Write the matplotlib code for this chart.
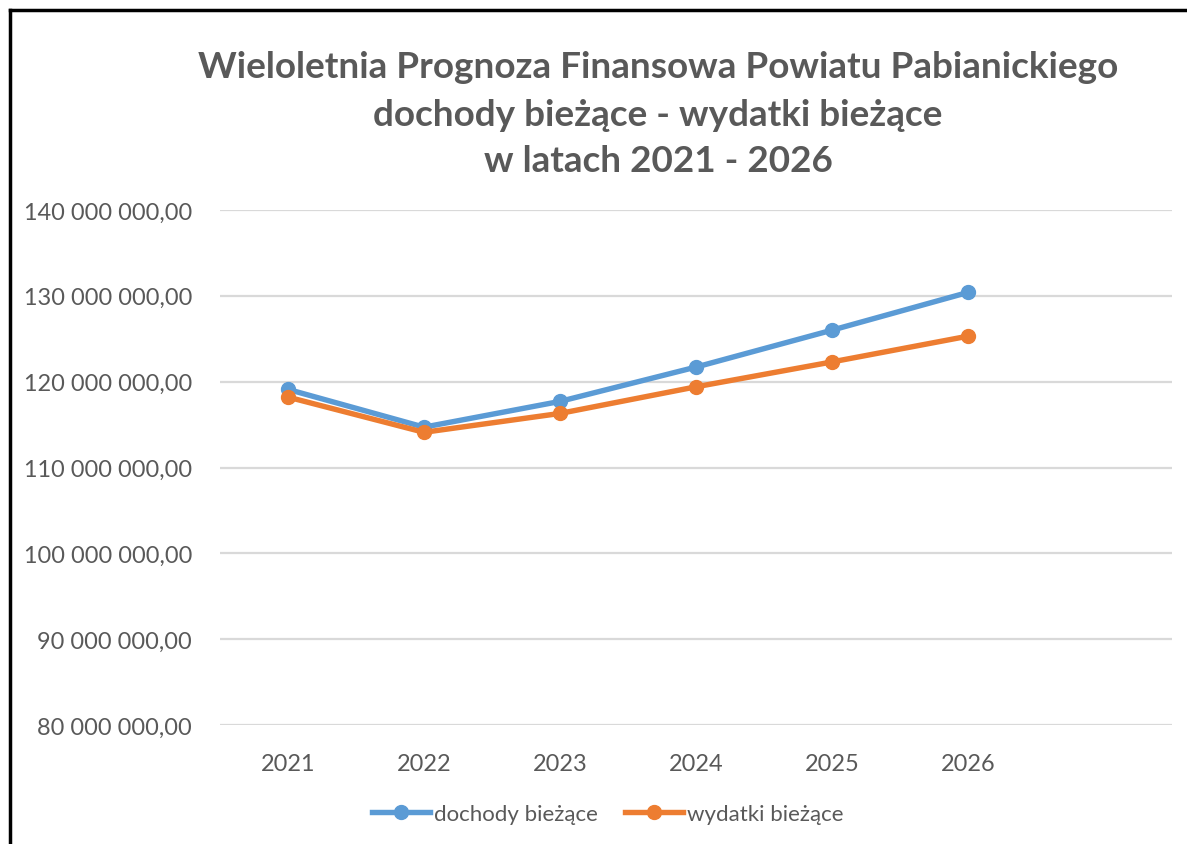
import matplotlib.pyplot as plt
from matplotlib.lines import Line2D
from matplotlib.ticker import FuncFormatter

lata = ["2021", "2022", "2023", "2024", "2025", "2026"]
dochody = [119.1e6, 114.7e6, 117.7e6, 121.7e6, 126.0e6, 130.4e6]
wydatki = [118.2e6, 114.1e6, 116.3e6, 119.4e6, 122.3e6, 125.3e6]

plt.rcParams['font.family'] = ['Lato', 'DejaVu Sans']
szary = "#595959"

fig = plt.figure(figsize=(11.87, 8.45), dpi=100)
ax = fig.add_axes([220/1187, 1-726/845, 952/1187, 515/845])

x = list(range(len(lata)))
ax.plot(x, dochody, color="#5B9BD5", lw=3.9, marker="o", ms=10, label="dochody bieżące", zorder=3)
ax.plot(x, wydatki, color="#ED7D31", lw=3.9, marker="o", ms=10, label="wydatki bieżące", zorder=4)

# siedem kategorii jak w Excelu, ostatnia pusta
ax.set_xlim(-0.5, 6.5)
ax.set_ylim(80e6, 140e6)
ax.set_yticks([80e6 + i*10e6 for i in range(7)])
ax.set_xticks(x)
ax.set_xticklabels(lata)

def fmt(v, pos):
    return "{:,.2f}".format(v).replace(",", " ").replace(".", ",")
ax.yaxis.set_major_formatter(FuncFormatter(fmt))

ax.grid(axis="y", color="#D9D9D9", lw=1.6)
ax.set_axisbelow(True)
for s in ax.spines.values():
    s.set_visible(False)
ax.tick_params(length=0, colors=szary, labelsize=16.9)
ax.tick_params(axis="y", pad=20)
ax.tick_params(axis="x", pad=20)

tytul = ["Wieloletnia Prognoza Finansowa Powiatu Pabianickiego",
         "dochody bieżące - wydatki bieżące",
         "w latach 2021 - 2026"]
for t, yy in zip(tytul, [67, 115, 161]):
    fig.text(658/1187, 1-yy/845, t, ha="center", va="center",
             fontsize=26.6, fontweight="bold", color=szary)

leg = fig.legend(loc="center", bbox_to_anchor=(608/1187, 1-815/845), ncol=2, frameon=False,
                 fontsize=16, handlelength=2.6, handletextpad=0.2, columnspacing=1.2)
for t in leg.get_texts():
    t.set_color(szary)

# ramka wykresu (lewa i górna krawędź)
fig.add_artist(Line2D([10/1187, 10/1187], [0, 1-11/845], color="black", lw=2.5))
fig.add_artist(Line2D([10/1187, 1], [1-11/845, 1-11/845], color="black", lw=2.5))

fig.savefig("out.png", dpi=100)
